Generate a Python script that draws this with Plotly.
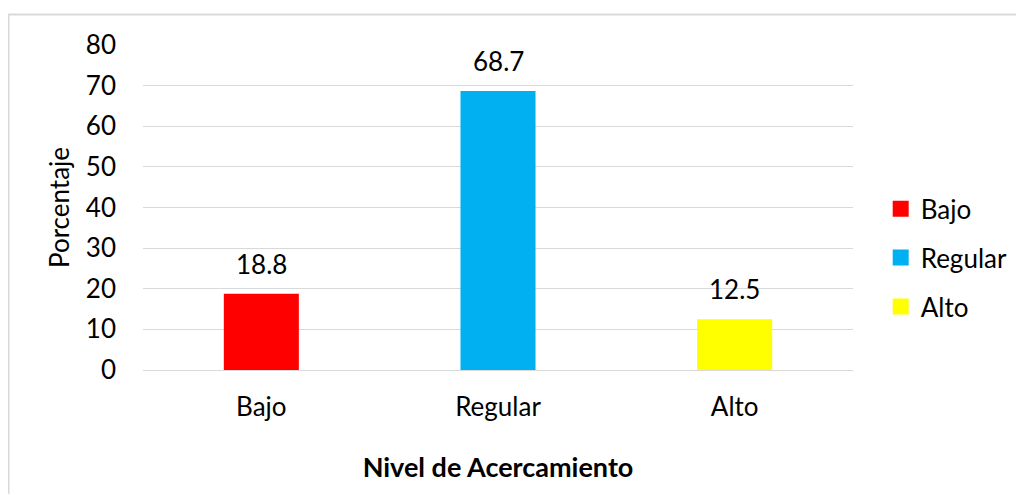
import plotly.graph_objects as go

categories = ["Bajo", "Regular", "Alto"]
values = [18.8, 68.7, 12.5]
colors = ["#FF0000", "#00B0F0", "#FFFF00"]
y_ticks = [0, 10, 20, 30, 40, 50, 60, 70, 80]

FONT = "Lato, 'Open Sans', sans-serif"
FS = 26

fig = go.Figure()
for c, v, col in zip(categories, values, colors):
    fig.add_trace(go.Bar(
        x=[c], y=[v], name=c, marker=dict(color=col, line=dict(width=0)),
        legendgroup=c, showlegend=False,
    ))
# legend entries with larger square swatches
for c, col in zip(categories, colors):
    fig.add_trace(go.Scatter(
        x=[None], y=[None], mode="markers", name=c, legendgroup=c,
        marker=dict(symbol="square", size=16, color=col, line=dict(width=0)),
        showlegend=True,
    ))

annotations = [
    dict(x=c, y=v, xref="x", yref="y", text=f"{v:.1f}", showarrow=False,
         yanchor="bottom", yshift=12, font=dict(size=FS, color="#000000", family=FONT))
    for c, v in zip(categories, values)
]

fig.update_layout(
    width=1024, height=494,
    margin=dict(l=135, r=179, t=37, b=132),
    paper_bgcolor="white", plot_bgcolor="white",
    barmode="overlay", bargap=0.683,
    font=dict(family=FONT, size=FS, color="#000000"),
    showlegend=True,
    legend=dict(x=1.039, xanchor="left", y=0.345, yanchor="middle",
                font=dict(size=FS, family=FONT), tracegroupgap=12,
                itemwidth=30, bgcolor="rgba(0,0,0,0)"),
    xaxis=dict(categoryorder="array", categoryarray=categories,
               showline=True, linecolor="#D9D9D9", linewidth=1,
               ticks="", tickfont=dict(size=FS), ticklabelstandoff=14,
               title=dict(text="<b>Nivel de Acercamiento</b>", font=dict(size=27), standoff=36)),
    yaxis=dict(range=[0, 80], tickvals=y_ticks, showgrid=True, gridcolor="#D9D9D9",
               gridwidth=1, zeroline=False, ticks="", tickfont=dict(size=FS),
               ticklabelstandoff=26,
               title=dict(text="Porcentaje", font=dict(size=FS), standoff=8)),
    annotations=annotations,
    shapes=[
        dict(type="rect", xref="paper", yref="paper",
             x0=(0.5 - 135) / 710, x1=(1030 - 135) / 710,
             y0=(362 - 500) / 325, y1=(362 - 6.5) / 325,
             line=dict(color="#D9D9D9", width=2), layer="below"),
    ],
)

fig.write_html("out.html")
